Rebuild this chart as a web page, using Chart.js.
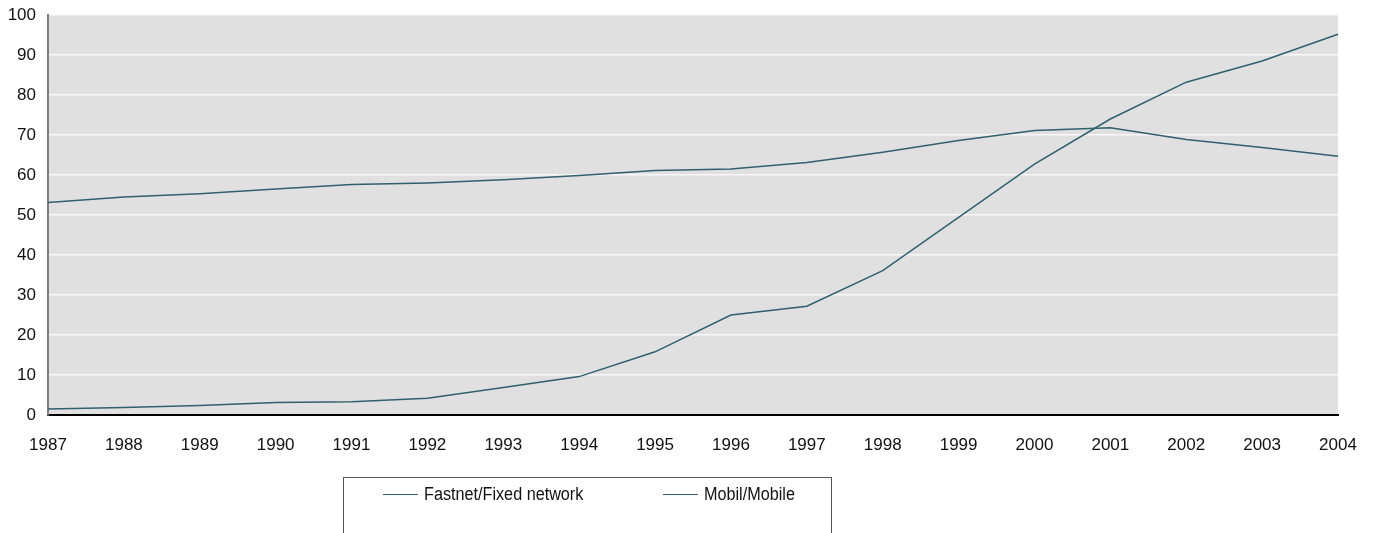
<!DOCTYPE html>
<html>
<head>
<meta charset="utf-8">
<script src="https://cdn.jsdelivr.net/npm/chart.js@4/dist/chart.umd.min.js"></script>
<style>
    html, body { margin: 0; padding: 0; background: #ffffff; }
    #wrap { position: relative; width: 1374px; height: 533px; }
    #legend {
        position: absolute;
        left: 343px; top: 477px;
        width: 489px; height: 70px;
        border: 1px solid #555555;
        box-sizing: border-box;
        font-family: "Liberation Sans", Arial, sans-serif;
        font-size: 18px;
        color: #111111;
    }
    .item { position: absolute; top: 4px; display: flex; align-items: center; height: 24px; }
    .swatch { display: inline-block; width: 35px; height: 0; border-top: 1.5px solid #30606e; margin-right: 6px; }
    .text { display: inline-block; transform: scaleX(0.9); transform-origin: left center; white-space: nowrap; }
</style>
</head>
<body>
<div id="wrap">
    <canvas id="chart" width="1374" height="533"></canvas>
    <div id="legend">
        <div class="item" style="left: 39px;"><span class="swatch"></span><span class="text">Fastnet/Fixed network</span></div>
        <div class="item" style="left: 319px;"><span class="swatch"></span><span class="text">Mobil/Mobile</span></div>
    </div>
</div>
<script>
// Chart data
const years = ['1987', '1988', '1989', '1990', '1991', '1992', '1993', '1994', '1995',
               '1996', '1997', '1998', '1999', '2000', '2001', '2002', '2003', '2004'];
const fixedNetwork = [53.1, 54.5, 55.3, 56.5, 57.6, 58.0, 58.8, 59.9, 61.1,
                      61.5, 63.1, 65.7, 68.6, 71.1, 71.8, 68.9, 66.9, 64.7];
const mobile = [1.5, 1.9, 2.4, 3.1, 3.3, 4.2, 6.9, 9.6, 15.8,
                25.0, 27.2, 36.1, 49.4, 62.7, 74.0, 83.2, 88.5, 95.2];
const yTicks = [0, 10, 20, 30, 40, 50, 60, 70, 80, 90, 100];

const LINE_COLOR = '#30606e';
const FONT = '"Liberation Sans", Arial, sans-serif';

// Grey plot background
const plotBackground = {
    id: 'plotBackground',
    beforeDraw(chart) {
        const { ctx, chartArea } = chart;
        ctx.save();
        ctx.fillStyle = '#e0e0e0';
        ctx.fillRect(chartArea.left, chartArea.top, chartArea.right - chartArea.left, chartArea.bottom - chartArea.top);
        ctx.restore();
    }
};

const ctx = document.getElementById('chart');
new Chart(ctx, {
    type: 'line',
    data: {
        labels: years,
        datasets: [
            {
                label: 'Fastnet/Fixed network',
                data: fixedNetwork,
                borderColor: LINE_COLOR,
                borderWidth: 1.5,
                pointRadius: 0,
                tension: 0,
                fill: false
            },
            {
                label: 'Mobil/Mobile',
                data: mobile,
                borderColor: LINE_COLOR,
                borderWidth: 1.5,
                pointRadius: 0,
                tension: 0,
                fill: false
            }
        ]
    },
    options: {
        responsive: false,
        animation: false,
        layout: { padding: { top: 15, right: 36, left: 0, bottom: 0 } },
        plugins: {
            legend: { display: false },
            tooltip: { enabled: false }
        },
        scales: {
            x: {
                offset: false,
                grid: { display: false, drawTicks: false },
                border: { color: '#000000', width: 2 },
                ticks: {
                    color: '#111111',
                    font: { family: FONT, size: 17 },
                    padding: 20,
                    maxRotation: 0,
                    autoSkip: false
                },
                afterFit(scale) {
                    scale.height = 118;
                    scale.paddingRight = 0;
                }
            },
            y: {
                min: 0,
                max: 100,
                afterBuildTicks(scale) { scale.ticks = yTicks.map(v => ({ value: v })); },
                grid: { color: '#f8f8f8', lineWidth: 1.5, drawTicks: false },
                border: { color: '#808080', width: 2 },
                ticks: {
                    color: '#111111',
                    font: { family: FONT, size: 17 },
                    padding: 12
                },
                afterFit(scale) {
                    scale.width = 48;
                    scale.paddingTop = 0;
                }
            }
        }
    },
    plugins: [plotBackground]
});
</script>
</body>
</html>
